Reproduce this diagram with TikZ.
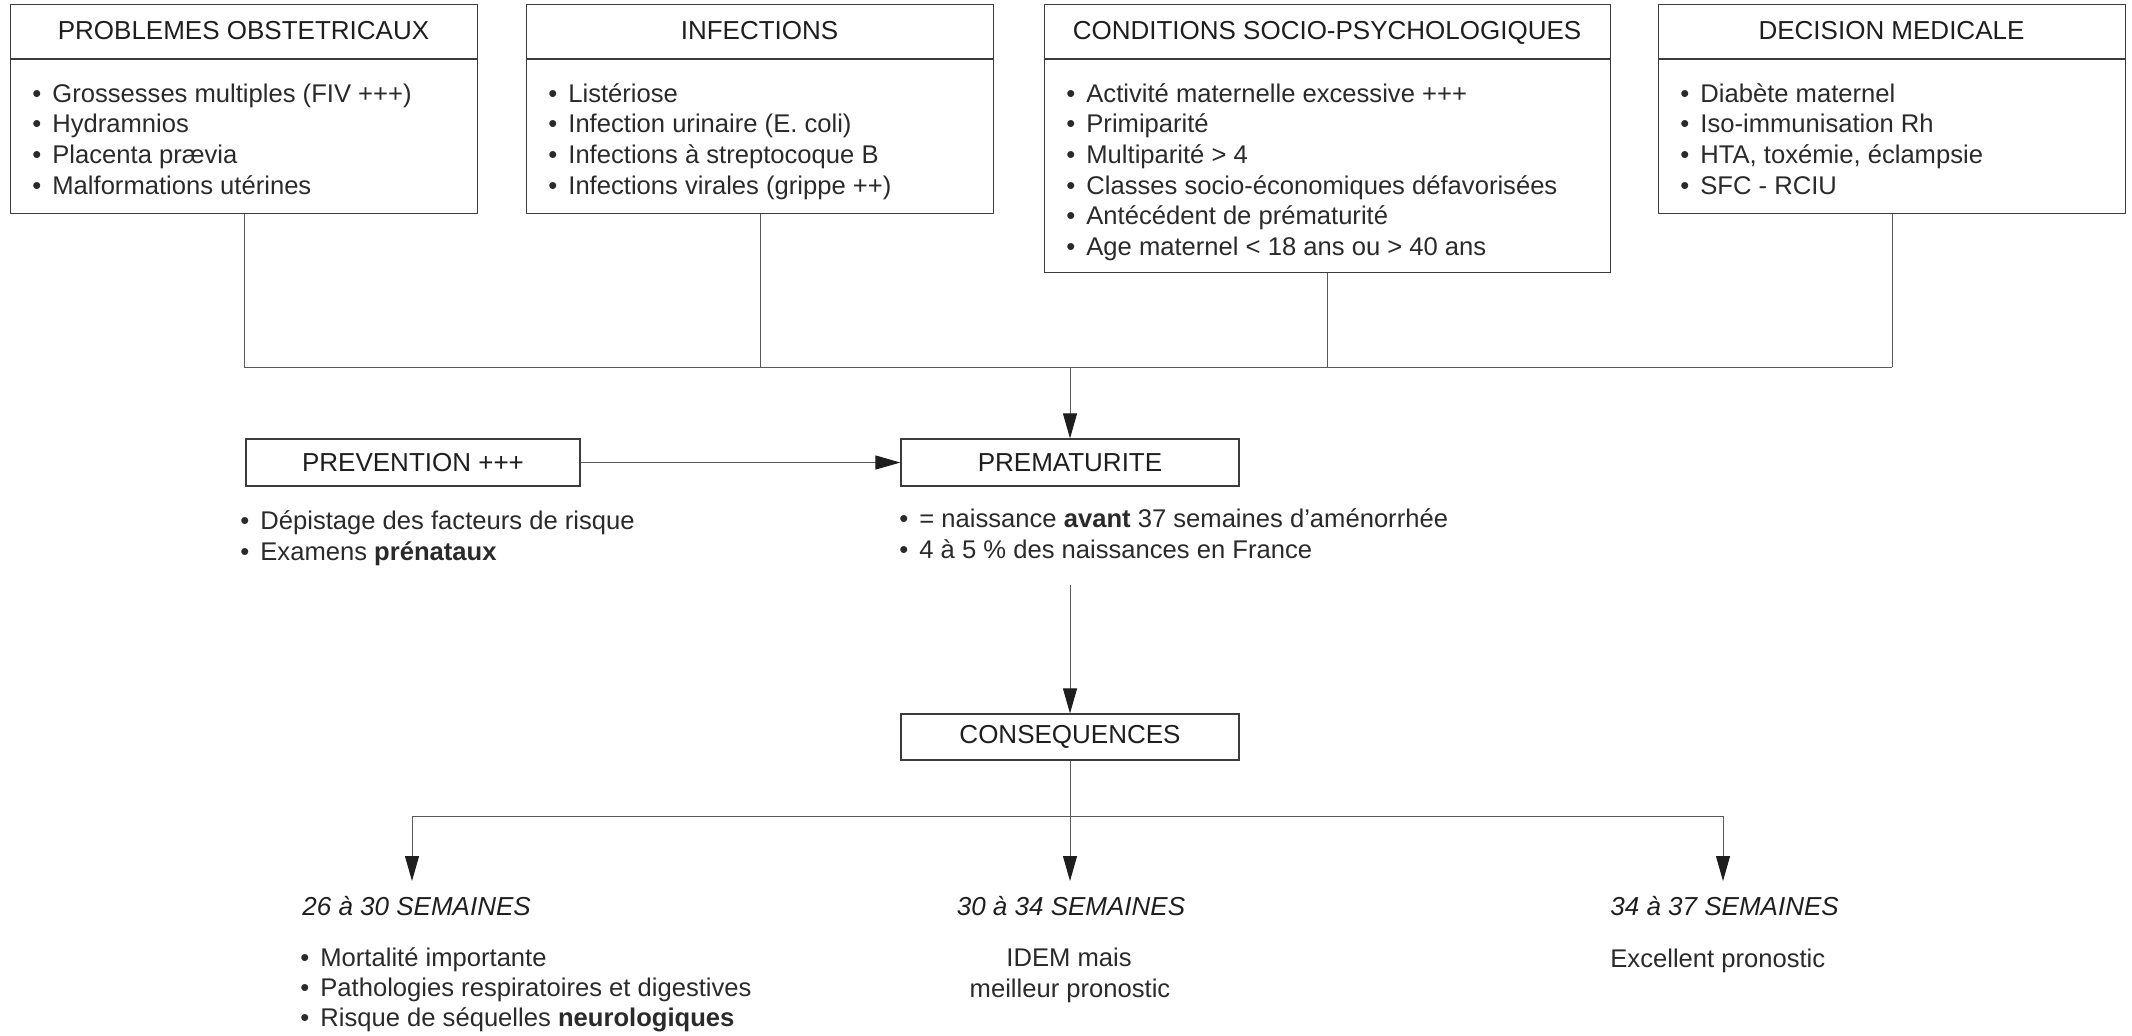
\documentclass[tikz,border=0pt]{standalone}
\usepackage{fontspec}
\setmainfont{Liberation Sans}
\usetikzlibrary{arrows.meta}
\definecolor{ink}{HTML}{1E1E1E}
\definecolor{body}{HTML}{2A2A2A}
\definecolor{rule}{HTML}{3C3C3C}
\definecolor{wire}{HTML}{5A5A5A}
\newcommand\bul{\makebox[10pt][l]{\textbullet}}

\begin{document}
\begin{tikzpicture}[x=0.5pt,y=-0.5pt,
  frame/.style={draw=rule, line width=0.6pt, inner sep=0pt, anchor=north west},
  midbox/.style={draw=rule, line width=0.6pt, inner sep=0pt, minimum height=23.5pt,
    font=\fontsize{13}{15}\selectfont, text=ink},
  title/.style={font=\fontsize{13}{15}\selectfont, text=ink, anchor=base, inner sep=0pt},
  item/.style={font=\fontsize{12.8}{15}\selectfont, text=body, anchor=base west, inner sep=0pt},
  plain/.style={font=\fontsize{12.8}{15}\selectfont, text=body, anchor=base, inner sep=0pt},
  period/.style={font=\fontsize{13}{15}\selectfont\itshape, text=ink, anchor=base, inner sep=0pt},
  wire/.style={draw=wire, line width=0.5pt},
  flow/.style={wire, -{Triangle[length=12.5pt,width=7pt,color=ink]}},
]
\useasboundingbox (0,0) rectangle (2132,1035);

% ---- risk factor boxes ----
\node[frame, minimum width=233.5pt, minimum height=104.5pt] (b1) at (10,4) {};
\node[frame, minimum width=233.5pt, minimum height=104.5pt] (b2) at (526,4) {};
\node[frame, minimum width=283pt,   minimum height=134pt]   (b3) at (1044,4) {};
\node[frame, minimum width=233.5pt, minimum height=104.5pt] (b4) at (1658,4) {};

\draw[draw=rule, line width=0.6pt] (10,59) -- (477,59);
\draw[draw=rule, line width=0.6pt] (526,59) -- (993,59);
\draw[draw=rule, line width=0.6pt] (1044,59) -- (1610,59);
\draw[draw=rule, line width=0.6pt] (1658,59) -- (2125,59);

\node[title] (h1) at (243.5,39) {PROBLEMES OBSTETRICAUX};
\node[title] (h2) at (759.5,39) {INFECTIONS};
\node[title] (h3) at (1327,39) {CONDITIONS SOCIO-PSYCHOLOGIQUES};
\node[title] (h4) at (1891.5,39) {DECISION MEDICALE};

\foreach \t [count=\i] in {Grossesses multiples (FIV +++), Hydramnios, Placenta pr\ae via, Malformations utérines}
  \node[item] (b1i\i) at (32,{102+30.7*(\i-1)}) {\bul\t};
\foreach \t [count=\i] in {Listériose, Infection urinaire (E. coli), Infections à streptocoque B, Infections virales (grippe ++)}
  \node[item] (b2i\i) at (548,{102+30.7*(\i-1)}) {\bul\t};
\foreach \t [count=\i] in {Activité maternelle excessive +++, Primiparité, Multiparité > 4, Classes socio-économiques défavorisées, Antécédent de prématurité, Age maternel < 18 ans ou > 40 ans}
  \node[item] (b3i\i) at (1066,{102+30.7*(\i-1)}) {\bul\t};
\foreach \t [count=\i] in {Diabète maternel, Iso-immunisation Rh, {HTA, toxémie, éclampsie}, SFC - RCIU}
  \node[item] (b4i\i) at (1680,{102+30.7*(\i-1)}) {\bul\t};

% ---- collecting line ----
\coordinate (bus) at (0,367);
\draw[wire] (b1.south) -- (b1.south |- bus);
\draw[wire] (b2.south) -- (b2.south |- bus);
\draw[wire] (b3.south) -- (b3.south |- bus);
\draw[wire] (b4.south) -- (b4.south |- bus);
\draw[wire] (b1.south |- bus) -- (b4.south |- bus);

% ---- central row ----
\node[midbox, minimum width=167pt] (prev) at (413,462.5) {PREVENTION +++};
\node[midbox, minimum width=169pt] (prem) at (1070,462.5) {PREMATURITE};
\draw[flow] (prem.north |- bus) -- (prem.north);
\draw[flow] (prev.east) -- (prem.west);

\node[item] (pv1) at (240,529) {\bul Dépistage des facteurs de risque};
\node[item] (pv2) at (240,560) {\bul Examens \textbf{prénataux}};
\node[item] (pm1) at (899,527) {\bul= naissance \textbf{avant} 37 semaines d’aménorrhée};
\node[item] (pm2) at (899,558) {\bul 4 à 5 \% des naissances en France};

% ---- consequences ----
\node[midbox, minimum width=169pt, minimum height=23pt] (cons) at (1070,737) {CONSEQUENCES};
\coordinate (premtail) at (1070,585);
\draw[flow] (premtail) -- (cons.north);

\coordinate (sL) at (412,816);
\coordinate (sR) at (1723,816);
\coordinate (tL) at (412,881);
\coordinate (tM) at (1070,881);
\coordinate (tR) at (1723,881);
\draw[wire] (sL) -- (sR);
\draw[flow] (sL) -- (tL);
\draw[flow] (cons.south) -- (tM);
\draw[flow] (sR) -- (tR);

\node[period, anchor=base west] (p1) at (302,915) {26 à 30 SEMAINES};
\node[period] (p2) at (1071,915) {30 à 34 SEMAINES};
\node[period, anchor=base west] (p3) at (1610,915) {34 à 37 SEMAINES};

\node[item] (c1) at (300,966) {\bul Mortalité importante};
\node[item] (c2) at (300,996) {\bul Pathologies respiratoires et digestives};
\node[item] (c3) at (300,1026) {\bul Risque de séquelles \textbf{neurologiques}};
\node[plain] (c4) at (1069,966) {IDEM mais};
\node[plain] (c5) at (1070,997) {meilleur pronostic};
\node[item] (c6) at (1610,967) {Excellent pronostic};
\end{tikzpicture}
\end{document}
